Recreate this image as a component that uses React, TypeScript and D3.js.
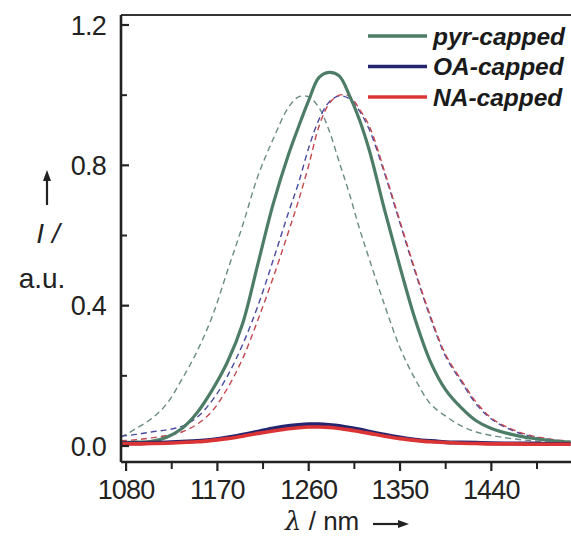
import React from 'react';
import * as d3 from 'd3';

// wavelength grid (nm) shared by all series
const wavelengths = [1075, 1090, 1105, 1120, 1135, 1150, 1165, 1180, 1195, 1210, 1225, 1240, 1250, 1260, 1270, 1280, 1290, 1300, 1310, 1320, 1335, 1350, 1365, 1380, 1395, 1410, 1425, 1440, 1460, 1480, 1500, 1518];

// solid lines: absolute intensity
const pyrSolid = [0.010, 0.011, 0.013, 0.025, 0.050, 0.095, 0.16, 0.24, 0.35, 0.52, 0.69, 0.83, 0.91, 0.985, 1.05, 1.065, 1.055, 1.00, 0.93, 0.84, 0.67, 0.51, 0.36, 0.24, 0.16, 0.11, 0.072, 0.050, 0.033, 0.022, 0.015, 0.011];
const oaSolid = [0.008, 0.008, 0.009, 0.010, 0.012, 0.014, 0.018, 0.024, 0.032, 0.041, 0.050, 0.057, 0.060, 0.062, 0.062, 0.060, 0.057, 0.052, 0.047, 0.041, 0.032, 0.024, 0.018, 0.014, 0.011, 0.010, 0.009, 0.008, 0.007, 0.007, 0.006, 0.006];
const naSolid = [0.006, 0.006, 0.007, 0.008, 0.010, 0.012, 0.016, 0.021, 0.028, 0.036, 0.043, 0.049, 0.052, 0.054, 0.054, 0.053, 0.050, 0.046, 0.041, 0.036, 0.028, 0.021, 0.016, 0.012, 0.010, 0.008, 0.007, 0.006, 0.006, 0.005, 0.005, 0.005];

// dashed lines: normalized
const pyrDashed = [0.025, 0.050, 0.078, 0.12, 0.19, 0.27, 0.37, 0.50, 0.63, 0.77, 0.875, 0.965, 0.995, 0.995, 0.965, 0.90, 0.81, 0.72, 0.62, 0.53, 0.40, 0.28, 0.19, 0.12, 0.085, 0.058, 0.040, 0.030, 0.021, 0.015, 0.011, 0.009];
const oaDashed = [0.028, 0.033, 0.040, 0.046, 0.056, 0.082, 0.13, 0.20, 0.29, 0.40, 0.53, 0.665, 0.75, 0.85, 0.93, 0.98, 0.998, 0.99, 0.955, 0.90, 0.775, 0.635, 0.495, 0.365, 0.255, 0.185, 0.12, 0.077, 0.045, 0.027, 0.018, 0.012];
const naDashed = [0.015, 0.018, 0.023, 0.030, 0.040, 0.062, 0.10, 0.165, 0.25, 0.36, 0.48, 0.61, 0.70, 0.80, 0.91, 0.975, 1.0, 0.997, 0.96, 0.91, 0.78, 0.64, 0.50, 0.37, 0.26, 0.19, 0.125, 0.08, 0.048, 0.029, 0.019, 0.013];

const xTicks = [1080, 1170, 1260, 1350, 1440];
const xMinor = [1125, 1215, 1305, 1395, 1485];
const yTicks = [0, 0.4, 0.8, 1.2];
const yMinor = [0.2, 0.6, 1.0];

const legendNames = ['pyr-capped', 'OA-capped', 'NA-capped'];
const legendColors = ['#4d7d67', '#25256f', '#dc3434'];

const W = 571;
const H = 537;
const left = 121;
const right = 571;
const top = 15;
const bottom = 462;

export default function App() {
  const x = d3.scaleLinear().domain([1075, 1518.5]).range([left, right]);
  const y = d3.scaleLinear().domain([0, 1.2]).range([446, 25]);

  const line = d3.line<number>()
    .x((_, i) => x(wavelengths[i]))
    .y(d => y(d))
    .curve(d3.curveCatmullRom.alpha(0.5));

  const dashed = [
    { v: pyrDashed, c: '#6b8b86' },
    { v: oaDashed, c: '#4a4aa0' },
    { v: naDashed, c: '#c4474f' },
  ];
  const solid = [
    { v: pyrSolid, c: legendColors[0], w: 3.2 },
    { v: oaSolid, c: legendColors[1], w: 4 },
    { v: naSolid, c: legendColors[2], w: 3.6 },
  ];

  const font = 'Liberation Sans, Arial, sans-serif';

  return (
    <svg width={W} height={H} style={{ position: 'absolute', left: 0, top: 0, background: '#fff' }}>
      <defs>
        <clipPath id="plot">
          <rect x={left} y={top} width={right - left} height={bottom - top} />
        </clipPath>
      </defs>

      <g clipPath="url(#plot)" fill="none">
        {dashed.map((s, i) => (
          <path key={'d' + i} d={line(s.v) || ''} stroke={s.c} strokeWidth={1.4} strokeDasharray="6,4" />
        ))}
        {solid.map((s, i) => (
          <path key={'s' + i} d={line(s.v) || ''} stroke={s.c} strokeWidth={s.w} strokeLinejoin="round" />
        ))}
      </g>

      {/* frame */}
      <line x1={left} x2={right} y1={top} y2={top} stroke="#333" strokeWidth={2} />
      <line x1={left} x2={left} y1={top} y2={bottom} stroke="#222" strokeWidth={2.6} />
      <line x1={left} x2={right} y1={bottom} y2={bottom} stroke="#222" strokeWidth={2.6} />

      {/* y ticks (inward) */}
      {yTicks.map(t => (
        <g key={'yt' + t}>
          <line x1={left} x2={left + 8} y1={y(t)} y2={y(t)} stroke="#222" strokeWidth={2.2} />
          <text x={106} y={y(t) + 9.5} textAnchor="end" fontFamily={font} fontSize={27} letterSpacing={-0.8} fill="#222">
            {t.toFixed(1)}
          </text>
        </g>
      ))}
      {yMinor.map(t => (
        <line key={'ym' + t} x1={left} x2={left + 6} y1={y(t)} y2={y(t)} stroke="#222" strokeWidth={2} />
      ))}

      {/* x ticks (outward) */}
      {xTicks.map(t => (
        <g key={'xt' + t}>
          <line x1={x(t)} x2={x(t)} y1={bottom} y2={bottom + 9} stroke="#222" strokeWidth={2.2} />
          <text x={x(t)} y={499} textAnchor="middle" fontFamily={font} fontSize={27} letterSpacing={-0.8} fill="#222">
            {t}
          </text>
        </g>
      ))}
      {xMinor.map(t => (
        <line key={'xm' + t} x1={x(t)} x2={x(t)} y1={bottom} y2={bottom + 7} stroke="#222" strokeWidth={2} />
      ))}

      {/* y title */}
      <line x1={47} x2={47} y1={205} y2={178} stroke="#222" strokeWidth={2.2} />
      <path d="M47,170 L43,181 L51,181 Z" fill="#222" />
      <text x={48} y={243} textAnchor="middle" fontFamily={font} fontStyle="italic" fontSize={28} fill="#222">I /</text>
      <text x={42} y={288} textAnchor="middle" fontFamily={font} fontSize={28} fill="#222">a.u.</text>

      {/* x title */}
      <text x={285} y={530} fontFamily={font} fontSize={26} fill="#222">
        <tspan fontStyle="italic" fontFamily="DejaVu Serif, serif">λ</tspan>
        <tspan> / nm</tspan>
      </text>
      <line x1={373} x2={400} y1={524} y2={524} stroke="#222" strokeWidth={2.2} />
      <path d="M409,524 L398,520 L398,528 Z" fill="#222" />

      {/* legend */}
      {legendNames.map((n, i) => (
        <g key={n}>
          <line x1={368} x2={427} y1={36 + i * 30.5} y2={36 + i * 30.5} stroke={legendColors[i]} strokeWidth={3.5} />
          <text x={433} y={36 + i * 30.5 + 8.5} fontFamily={font} fontStyle="italic" fontWeight="bold" fontSize={24.5} fill="#1a1a1a">
            {n}
          </text>
        </g>
      ))}
    </svg>
  );
}
